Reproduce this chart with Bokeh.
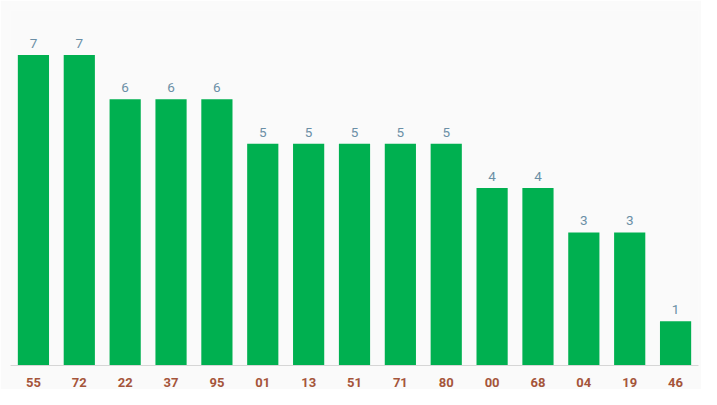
from bokeh.plotting import figure
from bokeh.models import ColumnDataSource, Range1d, LabelSet
from bokeh.core.properties import value
from bokeh.embed import file_html
from bokeh.resources import INLINE

categories = ["55", "72", "22", "37", "95", "01", "13", "51", "71", "80", "00", "68", "04", "19", "46"]
counts = [7, 7, 6, 6, 6, 5, 5, 5, 5, 5, 4, 4, 3, 3, 1]

src = ColumnDataSource(dict(cat=categories, val=counts, lab=[str(v) for v in counts]))

p = figure(x_range=categories, y_range=Range1d(0, 8), width=701, height=389,
           output_backend="svg", toolbar_location=None,
           min_border_left=10, min_border_right=3, min_border_top=10, min_border_bottom=23)
p.background_fill_color = "#fafafa"
p.border_fill_color = "#fafafa"
p.outline_line_color = None

p.vbar(x="cat", top="val", width=0.68, source=src, fill_color="#00b050", line_color=None)

labels = LabelSet(x="cat", y="val", text="lab", source=src, text_align="center",
                  text_baseline="bottom", y_offset=7, text_font=value("Roboto"),
                  text_font_size="13.5px", text_color="#6b8fa6")
p.add_layout(labels)

p.xgrid.grid_line_color = None
p.ygrid.grid_line_color = None
p.yaxis.visible = False
p.xaxis.axis_line_color = "#d6d6d6"
p.xaxis.major_tick_line_color = None
p.xaxis.minor_tick_line_color = None
p.xaxis.major_label_text_font = "Roboto"
p.xaxis.major_label_text_font_style = "bold"
p.xaxis.major_label_text_font_size = "13px"
p.xaxis.major_label_text_color = "#a5553a"
p.xaxis.major_label_standoff = 6

open("out.html", "w").write(file_html(p, INLINE))
